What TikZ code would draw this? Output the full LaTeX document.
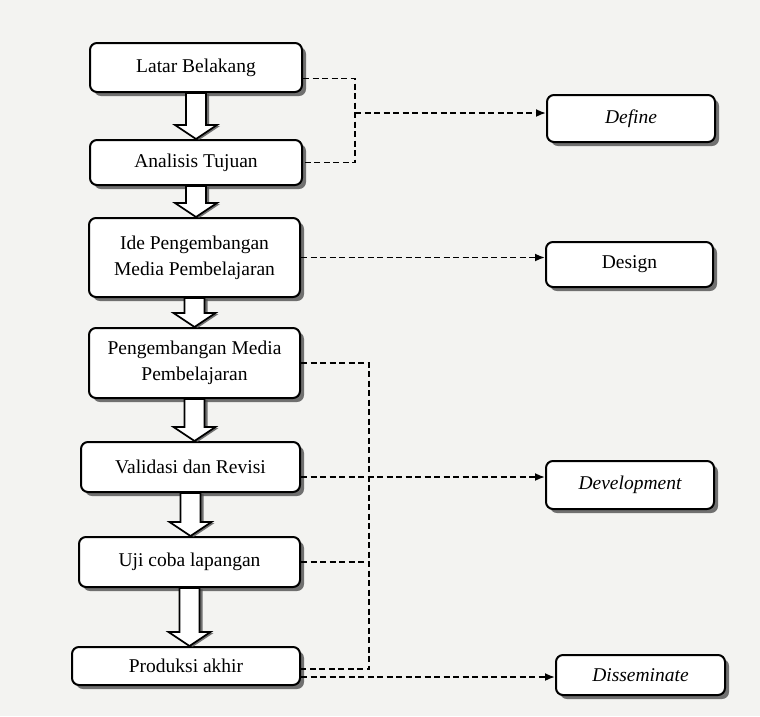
\documentclass[tikz,border=0pt]{standalone}
\usepackage{fontspec}
\setmainfont{Liberation Serif}
\usetikzlibrary{arrows.meta,calc,shadows}
\definecolor{paper}{RGB}{243,243,241}
\definecolor{shade}{RGB}{80,80,80}

% hollow block arrow between two stacked boxes
\newcommand{\blockarrow}[2]{%
	\draw [blockarr] ($(#1.south)+(-10,0)$) -- ($(#1.south |- #2.north)+(-10,-14)$) -- ++(-11,0)
		-- (#1.south |- #2.north) -- ++(21,-14) -- ++(-11,0) -- ($(#1.south)+(10,0)$) -- cycle;}

\begin{document}
\begin{tikzpicture} [x=1pt, y=-1pt,
	box/.style = {draw, line width=2pt, rounded corners=7pt, fill=white, inner sep=0pt,
		align=center, font=\fontsize{19.5}{26}\selectfont,
		drop shadow={shadow xshift=4pt, shadow yshift=-4pt, fill=shade, opacity=0.8}},
	blockarr/.style = {draw, line width=1.7pt, fill=white, line join=miter,
		drop shadow={shadow xshift=3pt, shadow yshift=-1pt, fill=shade, opacity=0.8}},
	dashline/.style = {line width=1.8pt, dash pattern=on 6pt off 3.5pt},
	dasharrow/.style = {dashline, -{Latex[length=10pt,width=8pt]}}]
	\useasboundingbox [fill=paper] (0,0) rectangle (760,716);

	% main flow
	\node [box, minimum width=212pt, minimum height=49pt] (latar) at (196,67.5) {Latar Belakang};
	\node [box, minimum width=212pt, minimum height=45pt] (analisis) at (196,162.5) {Analisis Tujuan};
	\node [box, minimum width=211pt, minimum height=79pt] (ide) at (194.5,257.5) {Ide Pengembangan\\Media Pembelajaran};
	\node [box, minimum width=211pt, minimum height=70pt] (pengembangan) at (194.5,363) {Pengembangan Media\\Pembelajaran};
	\node [box, minimum width=219pt, minimum height=50pt] (validasi) at (190.5,467) {Validasi dan Revisi};
	\node [box, minimum width=221pt, minimum height=50pt] (uji) at (189.5,562) {Uji coba lapangan};
	\node [box, minimum width=228pt, minimum height=38pt] (produksi) at (186,666) {Produksi akhir};

	\blockarrow{latar}{analisis}
	\blockarrow{analisis}{ide}
	\blockarrow{ide}{pengembangan}
	\blockarrow{pengembangan}{validasi}
	\blockarrow{validasi}{uji}
	\blockarrow{uji}{produksi}

	% stages
	\node [box, minimum width=168pt, minimum height=47pt] (define) at (631,118.5) {\itshape Define};
	\node [box, minimum width=167pt, minimum height=45pt] (design) at (629.5,264.5) {Design};
	\node [box, minimum width=168pt, minimum height=48pt] (development) at (630,485) {\itshape Development};
	\node [box, minimum width=169pt, minimum height=40pt] (disseminate) at (640.5,675) {\itshape Disseminate};

	% dashed links
	\coordinate (topjoin) at (355,113);
	\coordinate (botjoin) at (369,669);
	\draw [dashline] ([yshift=-11pt]latar.east) -| (topjoin) |- (analisis.east);
	\draw [dasharrow] (topjoin) -- (topjoin -| define.west);
	\draw [dasharrow] (ide.east) -- (ide.east -| design.west);
	\draw [dashline] (pengembangan.east) -| (botjoin) -- (botjoin -| produksi.east);
	\draw [dasharrow] ([yshift=-10pt]validasi.east) -- ([yshift=-10pt]validasi.east -| development.west);
	\draw [dashline] (uji.east) -- (uji.east -| botjoin);
	\draw [dasharrow] ([yshift=-11pt]produksi.east) -- ([yshift=-11pt]produksi.east -| disseminate.west);
\end{tikzpicture}
\end{document}
